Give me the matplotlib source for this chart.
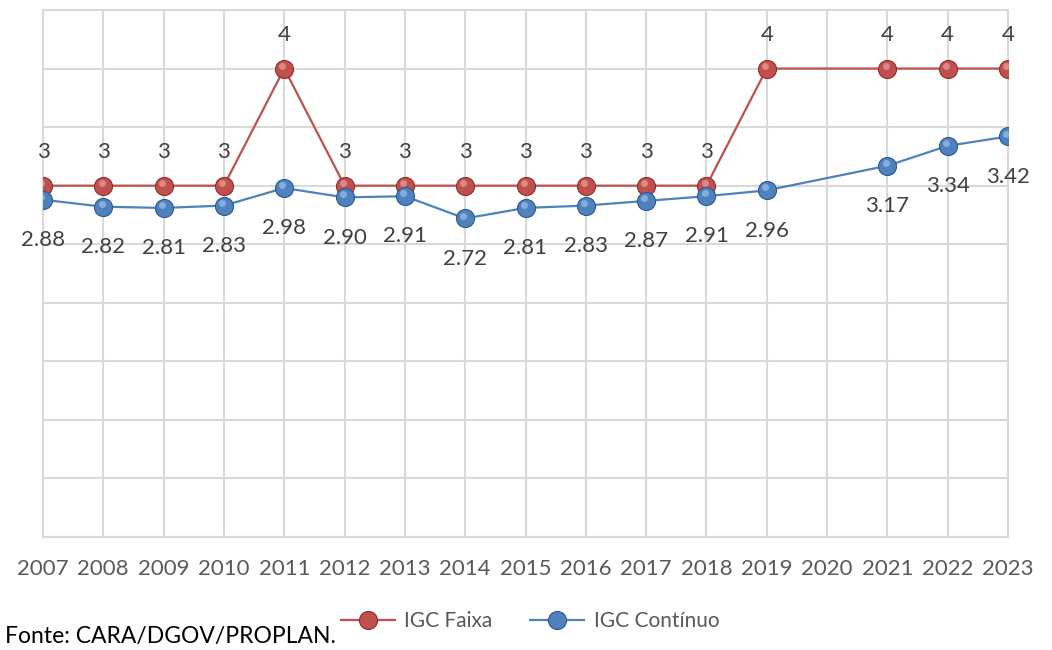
import matplotlib
matplotlib.use("Agg")
import matplotlib.pyplot as plt
import numpy as np

years = [2007, 2008, 2009, 2010, 2011, 2012, 2013, 2014, 2015, 2016, 2017, 2018, 2019, 2020, 2021, 2022, 2023]
igc_faixa = [3, 3, 3, 3, 4, 3, 3, 3, 3, 3, 3, 3, 4, None, 4, 4, 4]
igc_continuo = [2.88, 2.82, 2.81, 2.83, 2.98, 2.90, 2.91, 2.72, 2.81, 2.83, 2.87, 2.91, 2.96, None, 3.17, 3.34, 3.42]
faixa_labels = ["3", "3", "3", "3", "4", "3", "3", "3", "3", "3", "3", "3", "4", "", "4", "4", "4"]
cont_labels = ["2.88", "2.82", "2.81", "2.83", "2.98", "2.90", "2.91", "2.72", "2.81", "2.83", "2.87", "2.91", "2.96", "", "3.17", "3.34", "3.42"]

plt.rcParams['font.family'] = ['Lato', 'DejaVu Sans']

fig = plt.figure(figsize=(10.52, 6.5), dpi=100)
ax = fig.add_axes([43/1052, 113/650, (1008-43)/1052, (537-10)/650])

grid_c = '#D9D9D9'
red = '#C0504D'
red_dark = '#8E2F2C'
blue = '#4F81BD'
blue_dark = '#2C5A8F'
txt_c = '#404040'

def pts(vals):
    xs = [i for i, v in enumerate(vals) if v is not None]
    ys = [v for v in vals if v is not None]
    return xs, ys

xf, yf = pts(igc_faixa)
xc, yc = pts(igc_continuo)

ax.plot(xf, yf, color=red, lw=1.6, marker='o', ms=13, mfc=red, mec=red_dark, mew=0.8,
        label='IGC Faixa', zorder=4)
ax.plot(xc, yc, color=blue, lw=1.6, marker='o', ms=13, mfc=blue, mec=blue_dark, mew=0.8,
        label='IGC Contínuo', zorder=4)
# highlights on spheres
ax.plot(np.array(xf) - 0.03, np.array(yf) + 0.025, ls='none', marker='o', ms=5, mfc='#E8A09E', mec='none', alpha=0.7, zorder=5)
ax.plot(np.array(xc) - 0.03, np.array(yc) + 0.025, ls='none', marker='o', ms=5, mfc='#9DC0EA', mec='none', alpha=0.7, zorder=5)

for x, v, lab in zip(range(len(years)), igc_faixa, faixa_labels):
    if v is not None:
        ax.annotate(lab, (x, v), xytext=(0, 24), textcoords='offset points', ha='center', va='center',
                    fontsize=16, color=txt_c)
for x, v, lab in zip(range(len(years)), igc_continuo, cont_labels):
    if v is not None:
        ax.annotate(lab, (x, v), xytext=(0, -29), textcoords='offset points', ha='center', va='center',
                    fontsize=16, color=txt_c)

ax.set_xlim(0, len(years) - 1)
ax.set_ylim(0, 4.5)
ax.set_xticks(range(len(years)))
ax.set_xticklabels([str(y) for y in years], fontsize=16, color='#595959')
ax.set_yticks(np.arange(0, 4.51, 0.5))
ax.set_yticklabels([])
ax.tick_params(axis='both', length=0)
ax.tick_params(axis='x', pad=16)
ax.grid(True, color=grid_c, lw=1.5)
ax.set_axisbelow(True)
for s in ax.spines.values():
    s.set_color(grid_c)
    s.set_linewidth(1.5)

leg = fig.legend(loc='center', bbox_to_anchor=(530/1052, 1 - 621/650), ncol=2, frameon=False,
                 fontsize=15, labelcolor='#595959', handlelength=2.6, columnspacing=1.8, handletextpad=0.45)

fig.text(5/1052, 1 - 636/650, 'Fonte: CARA/DGOV/PROPLAN.', fontsize=16.5, color='black', ha='left', va='center')

fig.savefig('out.png', dpi=100)
